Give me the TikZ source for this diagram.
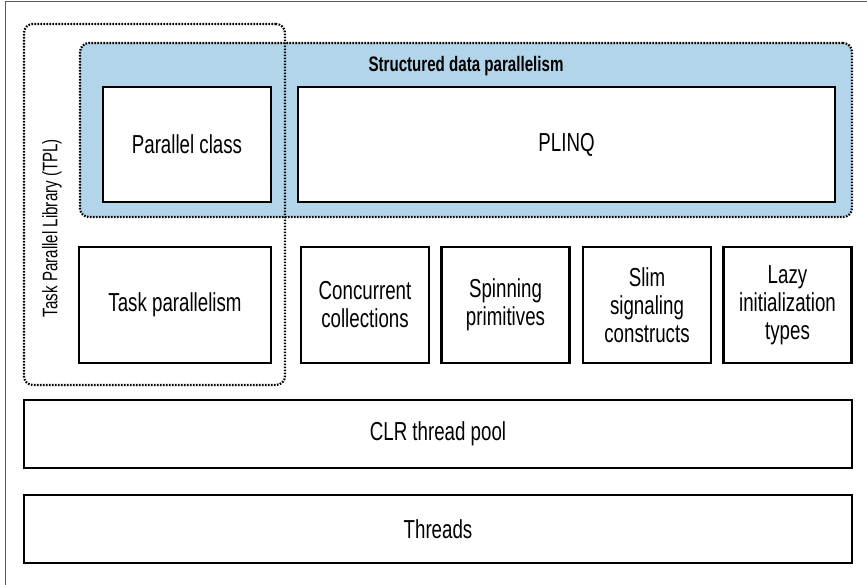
\documentclass[tikz,border=0pt]{standalone}
\usepackage{fontspec}
\setmainfont{Liberation Sans}[FakeStretch=0.72]
\usetikzlibrary{positioning, fit, backgrounds}

\definecolor{sdpblue}{HTML}{B3D5EA}

\begin{document}
\begin{tikzpicture}[
		x=1pt, y=-1pt,
		% Style for the plain boxes
		box/.style={draw, line width=2.2pt, fill=white, align=center,
			inner sep=0pt, font=\fontsize{26}{28}\selectfont},
		% Style for the dotted groups
		group/.style={draw, line width=2.2pt, dash pattern=on 1.6pt off 1.4pt,
			rounded corners=9pt, inner sep=0pt},
		% Title & Text
		groupTitle/.style={font=\bfseries\fontsize{21}{24}\selectfont, align=center},
		sideLabel/.style={font=\fontsize{21}{24}\selectfont, rotate=90}
		]
		\useasboundingbox (0,0) rectangle (867,585);
		\draw[gray!70!black, line width=1pt] (5,585) |- (867,2);
		
		% Structured data parallelism
		\node[group, fill=sdpblue, minimum width=772pt, minimum height=174pt] (SDP) at (466,130) {};
		\node[groupTitle] (SDPtitle) at (466,66) {Structured data parallelism};
		
		% Task Parallel Library
		\node[group, minimum width=261pt, minimum height=361pt] (TPL) at (154.5,204.5) {};
		\node[sideLabel] (TPLlabel) at (52,228) {Task Parallel Library (TPL)};
		
		\node[box, minimum width=168pt, minimum height=115pt] (parallel) at (187,144.5) {Parallel class};
		\node[box, minimum width=537pt, minimum height=115pt] (plinq) at (566.5,144.5) {PLINQ};
		
		\node[box, minimum width=192pt, minimum height=116pt] (task) at (175,305) {Task parallelism};
		\node[box, minimum width=128pt, minimum height=116pt] (concurrent) at (365,305) {Concurrent\\collections};
		\node[box, minimum width=128pt, minimum height=116pt] (spinning) at (505.5,305) {Spinning\\primitives};
		\node[box, minimum width=128pt, minimum height=116pt] (slim) at (647,305) {Slim\\signaling\\constructs};
		\node[box, minimum width=128pt, minimum height=116pt] (lazy) at (787.5,305) {Lazy\\initialization\\types};
		
		\node[box, minimum width=828pt, minimum height=68pt] (pool) at (438,434) {CLR thread pool};
		\node[box, minimum width=828pt, minimum height=68pt] (threads) at (438,529) {Threads};
	\end{tikzpicture}
\end{document}
